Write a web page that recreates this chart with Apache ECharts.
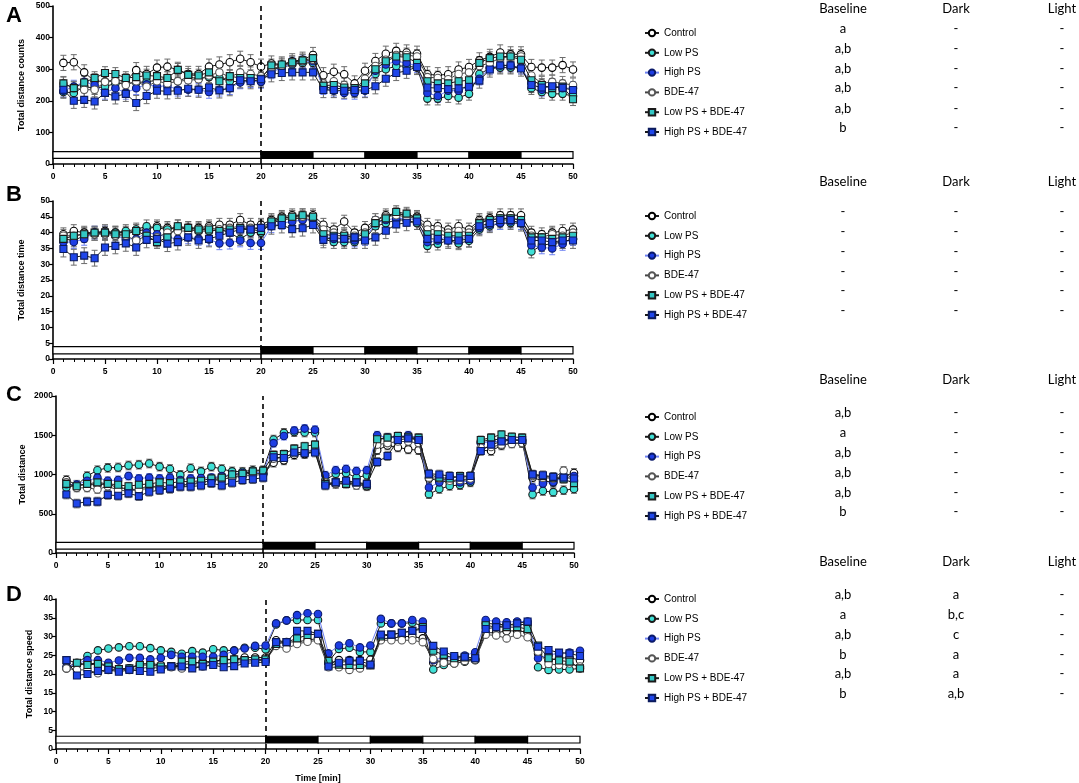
<!DOCTYPE html>
<html>
<head>
<meta charset="utf-8">
<title>Total distance</title>
<script src="https://cdn.jsdelivr.net/npm/echarts@6.0.0/dist/echarts.min.js"></script>
<style>
html, body { margin: 0; padding: 0; background: #fff; }
#main { width: 1079px; height: 783px; }
</style>
</head>
<body>
<div id="main"></div>
<script>
var minutes = [1,2,3,4,5,6,7,8,9,10,11,12,13,14,15,16,17,18,19,20,21,22,23,24,25,26,27,28,29,30,31,32,33,34,35,36,37,38,39,40,41,42,43,44,45,46,47,48,49,50];
var groups = ['Control', 'Low PS', 'High PS', 'BDE-47', 'Low PS + BDE-47', 'High PS + BDE-47'];
// light / dark periods: start, end, dark?
var phases = [[0, 20, 0], [20, 25, 1], [25, 30, 0], [30, 35, 1], [35, 40, 0], [40, 45, 1], [45, 50, 0]];

// A - total distance counts
var ctrlA = [320,322,290,262,262,265,262,297,285,305,308,298,285,285,308,315,322,333,322,308, 318,315,325,330,345, 281,292,284,255,295, 326,349,358,353,349, 284,281,284,299,307, 328,339,353,347,347, 307,305,305,313,299];
var lowA = [228,225,245,240,245,255,255,258,260,265,272,262,275,270,275,272,262,260,265,262, 300,305,315,320,320, 245,238,240,235,250, 285,300,310,310,305, 207,207,215,210,222, 285,302,305,305,305, 240,228,222,222,215];
var highA = [232,245,260,250,225,240,225,240,252,245,248,235,235,235,228,235,240,258,262,260, 290,305,318,325,325, 240,232,225,225,232, 295,315,325,320,310, 225,215,232,232,245, 270,305,312,312,305, 255,235,250,240,240];
var bdeA = [255,240,235,235,260,262,250,262,245,262,255,262,265,268,280,290,275,290,285,278, 300,310,320,325,330, 255,262,250,235,270, 310,330,345,345,340, 275,272,268,285,290, 310,320,335,340,340, 280,255,260,255,250];
var lowBdeA = [255,240,258,272,288,285,272,275,280,278,272,298,282,280,290,262,278,272,272,270, 312,315,322,328,335, 248,250,242,240,255, 300,325,340,338,320, 262,255,255,262,265, 320,335,340,340,330, 265,250,240,245,205];
var highBdeA = [235,200,203,198,225,214,222,193,215,232,230,232,238,235,242,233,240,265,262,268, 284,288,290,290,290, 234,234,232,234,234, 246,270,288,295,307, 242,240,237,239,244, 264,299,312,312,302, 250,242,246,241,234];
var semA = [24, 20, 20, 22, 20, 24];

// B - total distance time
var ctrlB = [39.5,40.5,40,40,40.5,40,40,40.5,41,42,41.5,41,41.5,41.5,42,42.5,42.5,44,42.5,42.5, 44,45,45.5,45.5,45.5, 42.5,41,43.5,40,41.5, 44,45.5,46,45.5,45, 42.5,42,41,42,41, 44,44.5,45.5,45.5,45.5, 40,39.5,40,40.5,41];
var lowB = [38,37.5,39,39.5,40,40,40.5,41,42,41.5,41,42,41,40.5,40.5,41,40,38,40,40, 43,44,44.5,44.5,44, 38,37,37,37,38, 42,43,44,44,43, 35.8,36.5,37.5,36.6,37.4, 41,42,43,43,43, 34,36,36.5,37,38];
var highB = [37,37,38,40,40,39,38,38,40,39.5,38.5,38,38.5,38,37.8,36.6,36.8,37.5,36.7,36.7, 42,43,43.5,44,44, 39,38,38,37.5,38, 43,44,44.5,44.5,44, 37,37.5,39,38,38.5, 41.5,42.5,43,43.5,43, 36,35.3,35,36.4,38];
var bdeB = [39,39,39.5,39.5,39.5,39,39,37.5,39,38.5,40,40.5,40.5,41,41.5,41,41.5,42,41.5,41.5, 43.5,44.5,45,45,45, 41,40,39.5,39,40, 44,45,45.5,45,44.5, 41,41,40,40.5,40, 43.5,44,44.5,44.5,44, 39,38.5,39.5,39,40];
var lowBdeB = [38,39,39.5,40,40,39.5,39.5,40.5,39,37,38.5,42,41.5,41,41,40.5,41,41.5,41,40.5, 43.5,44.5,45,45.5,45, 39.5,39,39,38.5,39.5, 43,44.5,46.5,46,44.5, 39.5,39.5,39,39,39, 43,44,44.5,44.5,44, 38.5,38.5,38,38.5,39];
var highBdeB = [34.8,32.2,32.7,31.9,35.3,35.8,36.6,35.3,37.7,38,36.5,37,38.5,37.5,38,39,40,41,41,41.5, 42,42.4,41.1,41.4,42.4, 37.7,38.5,38,38.5,37.5, 38.5,40.6,42.6,43.1,43.5, 38,38,37.5,37.5,38, 42,43,44,44,43, 37.5,37.5,37,37.5,37.5];
var semB = [2, 2, 2, 2, 2, 2.5];

// C - total distance
var ctrlC = [930,870,870,870,880,830,820,800,870,820,820,860,880,900,920,940,960,1000,1020,1010, 1150,1180,1250,1260,1300, 870,880,900,880,850, 1310,1370,1345,1320,1310, 950,920,900,930,930, 1310,1300,1370,1400,1400, 960,920,900,980,1020];
var lowC = [835,865,980,1055,1085,1090,1115,1125,1140,1100,1070,995,1080,1040,1100,1070,1040,1035,1055,1055, 1445,1530,1540,1535,1535, 930,1010,1020,960,990, 1440,1470,1480,1470,1450, 750,815,855,865,900, 1420,1440,1450,1440,1430, 745,790,775,800,815];
var highC = [875,870,920,960,920,930,980,950,960,950,960,930,950,955,960,980,1000,1020,1030,1020, 1400,1490,1560,1585,1570, 990,1055,1070,1045,1055, 1500,1470,1480,1500,1460, 835,900,950,900,920, 1400,1420,1420,1450,1440, 835,885,905,960,980];
var bdeC = [900,830,830,810,850,800,790,810,820,860,830,870,870,890,930,940,960,980,990,1000, 1200,1220,1270,1290,1310, 900,880,880,860,870, 1380,1400,1420,1420,1400, 960,950,920,930,950, 1340,1350,1380,1390,1400, 980,960,950,1050,920];
var lowBdeC = [880,850,880,900,880,870,850,870,880,900,890,910,910,920,950,960,1000,1010,1040,1050, 1250,1260,1330,1360,1380, 880,900,880,900,860, 1450,1470,1490,1480,1470, 1000,960,950,980,980, 1440,1470,1510,1480,1470, 1000,980,960,940,890];
var highBdeC = [745,630,655,655,740,730,760,725,780,800,820,845,845,860,890,860,895,930,940,960, 1220,1210,1280,1270,1280, 860,900,920,900,880, 1160,1235,1440,1460,1440, 1010,1000,980,960,980, 1300,1380,1420,1440,1440, 1000,990,970,960,950];
var semC = [55, 55, 50, 50, 50, 55];

// D - total distance speed
var ctrlD = [21.5,22.4,22.8,22.8,22.4,21.3,21.5,22.7,22.8,22.4,22,22.5,22.8,23.3,23.3,23.9,23.9,24.4,24.4,24.4, 29,28.5,28.6,29,29.5, 22.8,23.7,23.7,23.7,23.8, 29.5,29.5,30,30,29.5, 23,23.5,23.5,23.7,24, 31,31,31.5,31.5,31.2, 25.5,23.7,24.2,24.4,23.7];
var lowD = [21.8,23,24.8,26.3,26.8,27.1,27.4,27.4,26.9,26.3,25.9,25.4,26.1,25.7,26.6,26.3,26.3,27,27,26.6, 33.2,34.3,34.4,34.4,34.4, 23.3,26.7,27,25.9,25.9, 33.5,33.5,33.5,33.7,32.8, 21.2,22.4,22.8,23.3,23.7, 33.5,33.3,33.1,33.1,33.3, 21.8,21.1,21.2,21.2,21.5];
var highD = [21.8,22.8,23.7,23.7,23,23.6,24.3,24.3,23.9,24.3,25.1,24.6,24.6,24.6,24.6,25.1,26.2,26.8,27.5,27.6, 33.5,34.3,35.7,36.2,36, 25.5,27.6,28.2,27.1,27.6, 34.7,33.5,33.5,34.4,34, 23.7,24.4,24.2,24.9,25.8, 34.4,34,33.8,34,34, 24.2,25.1,25.5,25.7,26.2];
var bdeD = [21.5,21.1,21.1,20.2,21.1,21.3,21.1,21.5,21.8,21.5,21.8,21.5,21.8,22,22.7,22.8,23,23.3,23.6,23.6, 27.5,26.8,28,28.6,29, 21.8,21.8,21.1,21.5,22.4, 29,29,29,29,28.5, 24,23,22.8,23.5,23.8, 30.5,30.3,29.5,30.5,29.8, 26,22.7,22.4,22.8,22];
var lowBdeD = [23.7,23,22.4,22.7,22,21.3,21.5,22.4,22.4,22,22.1,23.3,23.3,22.7,23.3,23.7,23.9,23.7,23.9,23.9, 28,28.5,29.5,30.4,30.7, 23.5,22.5,22.4,22.4,22.3, 30,30.5,31,31.5,32.5, 26.2,25.1,24.2,24.4,24.2, 33,32.5,32.5,32.5,32, 27.6,24.2,23.6,23.3,21.5];
var highBdeD = [23.7,19.6,20,20.8,21.1,20.6,21.1,20.8,20.6,21.2,22,22,21.5,22,22.4,21.8,22.1,22.8,23,23.2, 28.5,28.5,31.5,31.5,30.7, 22,23,23.5,23.5,22.5, 30.5,30.5,31,31.5,32, 27.5,26,24.8,24.6,24.2, 32,32.5,33,33.5,34, 27.3,26.4,25.7,25.5,24.8];
var semD = [0, 0, 0, 0, 0, 0];

// statistics letters
var tableHead = ['Baseline', 'Dark', 'Light'];
var baselineA = ['a', 'a,b', 'a,b', 'a,b', 'a,b', 'b'];
var baselineB = ['-', '-', '-', '-', '-', '-'];
var baselineC = ['a,b', 'a', 'a,b', 'a,b', 'a,b', 'b'];
var baselineD = ['a,b', 'a', 'a,b', 'b', 'a,b', 'b'];
var darkD = ['a', 'b,c', 'c', 'a', 'a', 'a,b'];
var noDiff = ['-', '-', '-', '-', '-', '-'];

var looks = [
	{ symbol: 'circle', fill: '#ffffff', border: '#000000', line: '#1a1a1a', err: '#6b6b6b' },
	{ symbol: 'circle', fill: '#3fe0d6', border: '#1a1a1a', line: '#1a1a1a', err: '#6b6b6b' },
	{ symbol: 'circle', fill: '#1d3de4', border: '#0b1a6a', line: '#6f82f2', err: '#6f82f2' },
	{ symbol: 'circle', fill: '#ffffff', border: '#555555', line: '#444444', err: '#7a7a7a' },
	{ symbol: 'rect', fill: '#33c7c4', border: '#1a1a1a', line: '#1a1a1a', err: '#6b6b6b' },
	{ symbol: 'rect', fill: '#1f46ea', border: '#0b1a5c', line: '#1a1a1a', err: '#6b6b6b' }
];

var panels = [
	{ letter: 'A', left: 53, top: 6, width: 520, height: 158, max: 500, step: 100, strip: [18, 39],
		yName: 'Total distance counts', nameGap: 27, data: [ctrlA, lowA, highA, bdeA, lowBdeA, highBdeA], sem: semA,
		letterY: 5, headY: 9, rows: [32, 52, 72, 91, 112, 131], cols: [baselineA, noDiff, noDiff] },
	{ letter: 'B', left: 53, top: 201, width: 520, height: 158, max: 50, step: 5, strip: [1.6, 3.9],
		yName: 'Total distance time', nameGap: 27, data: [ctrlB, lowB, highB, bdeB, lowBdeB, highBdeB], sem: semB,
		letterY: 184, headY: 182, rows: [215, 235, 255, 275, 294, 314], cols: [baselineB, noDiff, noDiff] },
	{ letter: 'C', left: 56, top: 396, width: 518, height: 157, max: 2000, step: 500, strip: [50, 135],
		yName: 'Total distance', nameGap: 29, data: [ctrlC, lowC, highC, bdeC, lowBdeC, highBdeC], sem: semC,
		letterY: 384, headY: 380, rows: [416, 436, 456, 476, 496, 515], cols: [baselineC, noDiff, noDiff] },
	{ letter: 'D', left: 56, top: 599, width: 524, height: 150, max: 40, step: 5, strip: [1.6, 3.4],
		yName: 'Total distance speed', nameGap: 22, data: [ctrlD, lowD, highD, bdeD, lowBdeD, highBdeD], sem: semD,
		letterY: 584, headY: 562, rows: [598, 618, 638, 658, 677, 697], cols: [baselineD, darkD, noDiff] }
];

var tickFont = { fontFamily: 'Liberation Sans', fontWeight: 'bold', fontSize: 8.5, color: '#000' };

function plain(val) {
	return String(val);
}

function errItem(params, api) {
	var x = api.value(0);
	var p1 = api.coord([x, api.value(1)]);
	var p2 = api.coord([x, api.value(2)]);
	var w = 3;
	var st = { stroke: api.visual('color'), lineWidth: 1 };
	return {
		type: 'group',
		children: [
			{ type: 'line', shape: { x1: p1[0], y1: p1[1], x2: p2[0], y2: p2[1] }, style: st },
			{ type: 'line', shape: { x1: p1[0] - w, y1: p1[1], x2: p1[0] + w, y2: p1[1] }, style: st },
			{ type: 'line', shape: { x1: p2[0] - w, y1: p2[1], x2: p2[0] + w, y2: p2[1] }, style: st }
		]
	};
}

function stripItem(lo, hi) {
	return function(params, api) {
		var a = api.coord([api.value(0), hi]);
		var b = api.coord([api.value(1), lo]);
		return {
			type: 'rect',
			shape: { x: a[0], y: a[1], width: b[0] - a[0], height: b[1] - a[1] },
			style: { fill: api.value(2) ? '#000' : '#fff', stroke: '#000', lineWidth: 1.2 }
		};
	};
}

var grids = [], xAxes = [], yAxes = [], series = [], legends = [], graphics = [];

for (var p = 0; p < panels.length; p++) {
	var pn = panels[p];
	grids.push({ left: pn.left, top: pn.top, width: pn.width, height: pn.height, outerBoundsMode: 'none' });
	xAxes.push({
		gridIndex: p, type: 'value', min: 0, max: 50, interval: 5,
		name: p == 3 ? 'Time [min]' : '', nameLocation: 'middle', nameGap: 25,
		nameTextStyle: { fontFamily: 'Liberation Sans', fontWeight: 'bold', fontSize: 9, color: '#000' },
		axisLine: { show: true, lineStyle: { color: '#000', width: 1.6 } },
		axisTick: { show: true, length: 5, lineStyle: { color: '#000', width: 1.2 } },
		minorTick: { show: true, splitNumber: 5, length: 3, lineStyle: { color: '#000', width: 1 } },
		axisLabel: Object.assign({ margin: 8, formatter: plain }, tickFont),
		splitLine: { show: false }
	});
	yAxes.push({
		gridIndex: p, type: 'value', min: 0, max: pn.max, interval: pn.step,
		name: pn.yName, nameLocation: 'middle', nameGap: pn.nameGap, nameRotate: 90,
		nameTextStyle: { fontFamily: 'Liberation Sans', fontWeight: 'bold', fontSize: 9, color: '#000' },
		axisLine: { show: true, lineStyle: { color: '#000', width: 1.6 } },
		axisTick: { show: true, length: 4, lineStyle: { color: '#000', width: 1.2 } },
		axisLabel: Object.assign({ margin: 3, formatter: plain }, tickFont),
		splitLine: { show: false }
	});

	// light / dark bar
	series.push({
		type: 'custom', xAxisIndex: p, yAxisIndex: p, z: 1, silent: true,
		renderItem: stripItem(pn.strip[0], pn.strip[1]),
		data: phases
	});

	for (var g = 0; g < groups.length; g++) {
		var lk = looks[g];
		var vals = pn.data[g];
		if (pn.sem[g] > 0) {
			var errs = [];
			for (var i = 0; i < minutes.length; i++) {
				errs.push([minutes[i], vals[i] - pn.sem[g], vals[i] + pn.sem[g]]);
			}
			series.push({
				type: 'custom', xAxisIndex: p, yAxisIndex: p, z: 2, silent: true,
				itemStyle: { color: lk.err },
				renderItem: errItem,
				data: errs
			});
		}
		var pts = [];
		for (var j = 0; j < minutes.length; j++) {
			pts.push([minutes[j], vals[j]]);
		}
		var s = {
			name: groups[g], type: 'line', xAxisIndex: p, yAxisIndex: p, z: 3 + g,
			symbol: lk.symbol, symbolSize: lk.symbol == 'rect' ? 7 : 7.5, showAllSymbol: true,
			itemStyle: { color: lk.fill, borderColor: lk.border, borderWidth: 1.1 },
			lineStyle: { color: lk.line, width: 1 },
			emphasis: { disabled: true },
			data: pts
		};
		if (g == 0) {
			s.markLine = {
				silent: true, symbol: ['none', 'none'], label: { show: false },
				lineStyle: { color: '#000', type: [5, 4], width: 1.6 },
				data: [{ xAxis: 20 }]
			};
		}
		series.push(s);
	}

	legends.push({
		orient: 'vertical', left: 639, top: pn.rows[0] - 10, selectedMode: false,
		itemWidth: 14, itemHeight: 8, itemGap: 7.8,
		textStyle: { fontFamily: 'Liberation Sans', fontSize: 10, color: '#000', lineHeight: 12 },
		data: groups
	});

	graphics.push({
		type: 'text', left: 6, top: pn.letterY,
		style: { text: pn.letter, font: 'bold 22px "Liberation Sans"', fill: '#000' }
	});
	var colX = [843, 956, 1062];
	for (var c = 0; c < tableHead.length; c++) {
		graphics.push({
			type: 'text', x: colX[c], y: pn.headY,
			style: { text: tableHead[c], font: '13px Lato', fill: '#000', align: 'center', verticalAlign: 'middle' }
		});
		for (var r = 0; r < pn.rows.length; r++) {
			graphics.push({
				type: 'text', x: colX[c], y: pn.rows[r] - 3,
				style: { text: pn.cols[c][r], font: '13px Lato', fill: '#000', align: 'center', verticalAlign: 'middle' }
			});
		}
	}
}

var myChart = echarts.init(document.getElementById('main'));
myChart.setOption({
	animation: false,
	backgroundColor: '#fff',
	grid: grids,
	xAxis: xAxes,
	yAxis: yAxes,
	legend: legends,
	graphic: graphics,
	series: series
});
</script>
</body>
</html>
